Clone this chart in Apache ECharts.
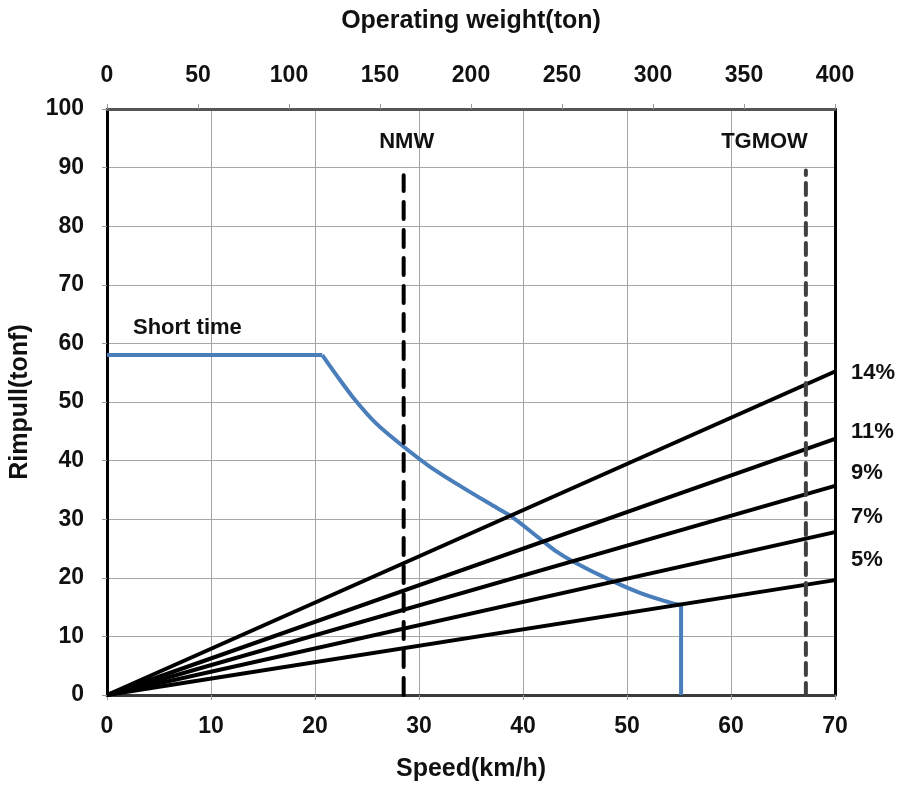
<!DOCTYPE html>
<html>
<head>
<meta charset="utf-8">
<title>Rimpull vs Speed</title>
<script src="https://cdn.jsdelivr.net/npm/echarts@6/dist/echarts.min.js"></script>
<style>
  html, body { margin: 0; padding: 0; background: #fff; }
  #chart { width: 901px; height: 791px; }
</style>
</head>
<body>
<div id="chart"></div>
<script>
// Short-time rimpull curve: speed (km/h) and rimpull (tonf)
const shortTimeSpeed   = [0, 20.7, 22.1, 23.7, 25.9, 28.5, 31.1, 34.3, 37.5, 39.1, 41.6, 43.2, 44.8, 48.4, 51.3, 54.5, 55.2, 55.2];
const shortTimeRimpull = [58, 58, 54.5, 50.7, 46.3, 42.4, 38.9, 35.3, 31.9, 30.2, 26.7, 24.5, 22.8, 19.6, 17.4, 15.6, 15.4, 0];

// Grade resistance lines: rimpull at 0 and 70 km/h
const gradeNames   = ['5%', '7%', '9%', '11%', '14%'];
const gradeAtMax   = [19.6, 27.8, 35.7, 43.7, 55.2];
const gradeLabelAt = [23.0, 30.4, 37.9, 44.9, 55.0];

// Reference weights on the operating-weight axis (ton)
const refNames   = ['NMW', 'TGMOW'];
const refWeights = [163, 384];
const refTop     = [88.7, 89.5];

// Axis ranges and tick steps
const speedMax = 70, speedStep = 10;
const weightMax = 400, weightStep = 50;
const rimpullMax = 100, rimpullStep = 10;

const FONT = '"Liberation Sans", Arial, sans-serif';
const chart = echarts.init(document.getElementById('chart'), null, { renderer: 'canvas' });

const curvePts = shortTimeSpeed.map((s, i) => [s, shortTimeRimpull[i]]);
const n = curvePts.length;
const blue = { color: '#4a7ebb', width: 4 };

const series = [];
// flat part, curved part (smoothed), and the vertical cut-off at top speed
series.push({ name: 'Short time', type: 'line', data: curvePts.slice(0, 2), symbol: 'none', lineStyle: blue, z: 3 });
series.push({ name: 'Short time', type: 'line', data: curvePts.slice(1, n - 1), symbol: 'none',
  smooth: 0.3, lineStyle: blue, z: 3 });
series.push({ name: 'Short time', type: 'line', data: curvePts.slice(n - 2), symbol: 'none', lineStyle: blue, z: 3 });

gradeNames.forEach((g, i) => {
  series.push({
    name: g,
    type: 'line',
    xAxisIndex: 0, yAxisIndex: 0,
    data: [[0, 0], [speedMax, gradeAtMax[i]]],
    symbol: 'none',
    lineStyle: { color: '#000', width: 4 },
    z: 4
  });
});
refNames.forEach((r, i) => {
  series.push({
    name: r,
    type: 'line',
    xAxisIndex: 1, yAxisIndex: 0,
    data: [[refWeights[i], 0], [refWeights[i], refTop[i]]],
    symbol: 'none',
    lineStyle: i === 0
      ? { color: '#000', width: 4, type: [17, 11], cap: 'round' }
      : { color: '#404040', width: 4, type: [12, 8], cap: 'round' },
    z: 5
  });
});

const labelStyle = { fontFamily: FONT, fontWeight: 'bold', color: '#111' };

chart.setOption({
  animation: false,
  backgroundColor: '#fff',
  grid: { left: 107, right: 66, top: 109, bottom: 96, containLabel: false },
  xAxis: [
    {
      type: 'value', position: 'bottom',
      min: 0, max: speedMax, interval: speedStep,
      name: 'Speed(km/h)', nameLocation: 'middle', nameGap: 62,
      nameTextStyle: Object.assign({ fontSize: 25 }, labelStyle),
      axisLine: { show: true, onZero: false, lineStyle: { color: '#3a3a3a', width: 3 } },
      axisTick: { show: true, length: 5, lineStyle: { color: '#999' } },
      axisLabel: Object.assign({ fontSize: 23, margin: 20 }, labelStyle),
      splitLine: { show: true, lineStyle: { color: '#a6a6a6', width: 1 } }
    },
    {
      type: 'value', position: 'top',
      min: 0, max: weightMax, interval: weightStep,
      name: 'Operating weight(ton)', nameLocation: 'middle', nameGap: 75,
      nameTextStyle: Object.assign({ fontSize: 25 }, labelStyle),
      axisLine: { show: true, onZero: false, lineStyle: { color: '#555', width: 3 } },
      axisTick: { show: true, length: 5, lineStyle: { color: '#999' } },
      axisLabel: Object.assign({ fontSize: 23, margin: 22 }, labelStyle),
      splitLine: { show: false }
    }
  ],
  yAxis: [
    {
      type: 'value', position: 'left',
      min: 0, max: rimpullMax, interval: rimpullStep,
      name: 'Rimpull(tonf)', nameLocation: 'middle', nameGap: 74, nameRotate: 90,
      nameTextStyle: Object.assign({ fontSize: 25 }, labelStyle),
      axisLine: { show: true, onZero: false, lineStyle: { color: '#000', width: 3 } },
      axisTick: { show: true, length: 5, lineStyle: { color: '#999' } },
      axisLabel: Object.assign({ fontSize: 23, margin: 23 }, labelStyle),
      splitLine: { show: true, lineStyle: { color: '#a6a6a6', width: 1 } }
    },
    {
      type: 'value', position: 'right',
      min: 0, max: rimpullMax, interval: rimpullStep,
      axisLine: { show: true, onZero: false, lineStyle: { color: '#000', width: 3 } },
      axisTick: { show: false },
      axisLabel: { show: false },
      splitLine: { show: false }
    }
  ],
  series: series
});

// Text annotations placed from data coordinates
const px = (x, y, xi) => chart.convertToPixel({ xAxisIndex: xi || 0, yAxisIndex: 0 }, [x, y]);
const graphics = [];
gradeNames.forEach((g, i) => {
  const p = px(speedMax, gradeLabelAt[i]);
  graphics.push({
    type: 'text', x: p[0] + 16, y: p[1],
    style: { text: g, font: 'bold 22px ' + FONT, fill: '#111', textVerticalAlign: 'middle', textAlign: 'left' }
  });
});
const st = px(2.5, 62.6);
graphics.push({
  type: 'text', x: st[0], y: st[1],
  style: { text: 'Short time', font: 'bold 22px ' + FONT, fill: '#111', textVerticalAlign: 'middle', textAlign: 'left' }
});
const nmw = px(refWeights[0], 94.3, 1);
graphics.push({
  type: 'text', x: nmw[0] + 3, y: nmw[1],
  style: { text: refNames[0], font: 'bold 22px ' + FONT, fill: '#111', textVerticalAlign: 'middle', textAlign: 'center' }
});
const tg = px(refWeights[1], 94.3, 1);
graphics.push({
  type: 'text', x: tg[0] + 2, y: tg[1],
  style: { text: refNames[1], font: 'bold 22px ' + FONT, fill: '#111', textVerticalAlign: 'middle', textAlign: 'right' }
});
chart.setOption({ graphic: graphics });
</script>
</body>
</html>
